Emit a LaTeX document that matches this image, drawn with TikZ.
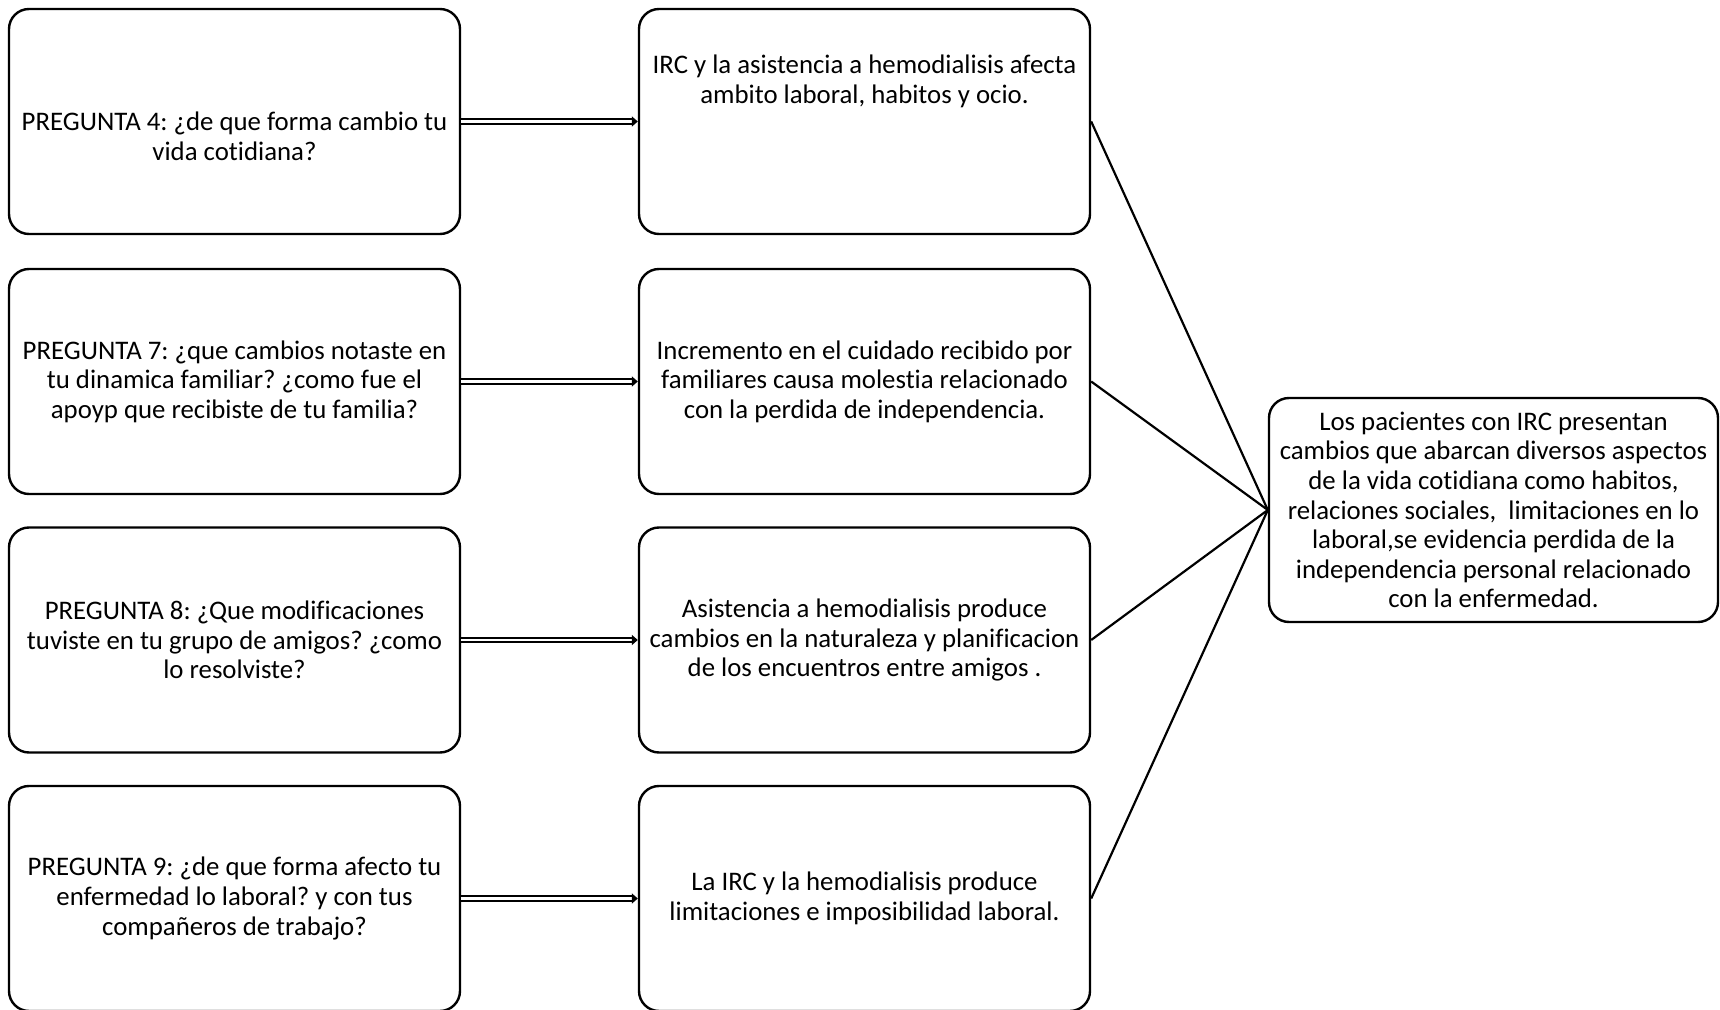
\documentclass[tikz,border=0pt]{standalone}
\usepackage{fontspec}
\setmainfont{Carlito}[Ligatures=NoCommon]
\usetikzlibrary{arrows.meta}
\frenchspacing
\begin{document}
\begin{tikzpicture}[x=0.5pt,y=-0.5pt,
  txt/.style={align=center, font=\fontsize{13.4}{14.8}\selectfont},
  box/.style={draw, line width=1.2pt, rounded corners=10pt, minimum width=225.5pt, minimum height=112.5pt, inner sep=3pt, txt},
  dbl/.style={double, double distance=1.1pt, line width=1pt, -{Triangle[length=3pt,width=5pt]}},
  lnk/.style={line width=1.1pt}]
\useasboundingbox (0,0) rectangle (1720,1010);
\node[box, label={[txt, anchor=center, yshift=-7.5pt]center:PREGUNTA 4: ¿de que forma cambio tu\\vida cotidiana?}] (q4) at (234.5,121.5) {};
\node[box] (q7) at (234.5,381.5) {PREGUNTA 7: ¿que cambios notaste en\\tu dinamica familiar? ¿como fue el\\apoyp que recibiste de tu familia?};
\node[box] (q8) at (234.5,640) {PREGUNTA 8: ¿Que modificaciones\\tuviste en tu grupo de amigos? ¿como\\lo resolviste?};
\node[box] (q9) at (234.5,898.5) {PREGUNTA 9: ¿de que forma afecto tu\\enfermedad lo laboral? y con tus\\compañeros de trabajo?};
\node[box, label={[txt, anchor=north, yshift=-20pt]north:IRC y la asistencia a hemodialisis afecta\\ambito laboral, habitos y ocio.}] (a4) at (864.5,121.5) {};
\node[box] (a7) at (864.5,381.5) {Incremento en el cuidado recibido por\\familiares causa molestia relacionado\\con la perdida de independencia.};
\node[box] (a8) at (864.5,640) {Asistencia a hemodialisis produce\\cambios en la naturaleza y planificacion\\de los encuentros entre amigos .};
\node[box] (a9) at (864.5,898.5) {La IRC y la hemodialisis produce\\limitaciones e imposibilidad laboral.};
\node[box, minimum width=224.5pt, minimum height=112pt] (res) at (1493.5,510) {Los pacientes con IRC presentan\\cambios que abarcan diversos aspectos\\de la vida cotidiana como habitos,\\relaciones sociales,\ \ limitaciones en lo\\laboral,se evidencia perdida de la\\independencia personal relacionado\\con la enfermedad.};
\draw[dbl] (q4) -- (a4);
\draw[dbl] (q7) -- (a7);
\draw[dbl] (q8) -- (a8);
\draw[dbl] (q9) -- (a9);
\draw[lnk] (a4.east) -- (res.west);
\draw[lnk] (a7.east) -- (res.west);
\draw[lnk] (a8.east) -- (res.west);
\draw[lnk] (a9.east) -- (res.west);
\end{tikzpicture}
\end{document}
